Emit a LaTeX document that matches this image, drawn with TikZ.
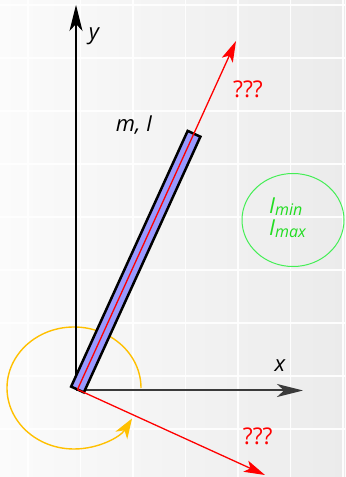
\documentclass[tikz,border=0pt]{standalone}
\usepackage{fontspec}
\setmainfont{Open Sans}
\usetikzlibrary{arrows.meta,calc,shapes.geometric}
\definecolor{bgL}{HTML}{FBFBFB}
\definecolor{bgR}{HTML}{EBEBEB}
\definecolor{axisgray}{HTML}{3A3A3A}
\definecolor{arcorange}{HTML}{FFC000}
\definecolor{rodblue}{HTML}{9999FF}
\definecolor{ellgreen}{HTML}{44EE55}
\definecolor{txtgreen}{HTML}{22DD22}
\definecolor{redc}{HTML}{FF0000}
\newcommand\lowsub[1]{\raisebox{-2bp}{\fontsize{16bp}{16bp}\selectfont #1}}
\begin{document}
\begin{tikzpicture}[x=1bp,y=1bp,
  gridline/.style={draw=white,line width=1.2bp,opacity=0.9},
  axisline/.style={line width=1.3bp,-{Stealth[length=26bp,width=13bp,inset=7bp]}},
  redarrow/.style={draw=redc,line width=1.3bp,-{Stealth[length=21bp,width=12bp,inset=5bp]}},
  orangearc/.style={draw=arcorange,line width=1.4bp,-{Stealth[length=20bp,width=14bp,inset=6bp]}},
  rodstyle/.style={draw=black,line width=2.5bp,fill=rodblue,inner sep=0pt,outer sep=0pt,minimum width=281bp,minimum height=14bp},
  lbl/.style={font=\fontsize{22bp}{26bp}\selectfont\itshape,inner sep=0pt},
  qlbl/.style={font=\fontsize{23bp}{27bp}\selectfont,text=redc,inner sep=0pt}
]
\useasboundingbox (0,0) rectangle (345,477);
\shade[left color=bgL,right color=bgR] (0,0) rectangle (345,477);
\foreach \gx in {28,80.5,133,185.5,238,290.5,343}
  \draw[gridline] (\gx,0) -- (\gx,477);
\foreach \gy in {472,419,366,313,260,207,154,101,48}
  \draw[gridline] (0,\gy) -- (345,\gy);

\coordinate (O) at (77.5,87.5);
\coordinate (ybase) at (76,87);
\coordinate (yend) at (76,472);
\coordinate (xbase) at (76,86.5);
\coordinate (xend) at (303,86.5);
\coordinate (arcC) at (74,89);
\coordinate (rtipA) at (236,436);
\coordinate (rtipB) at (265,2);

\draw[orangearc] ($(arcC)+(67,0)$) arc[start angle=0,end angle=330,x radius=67,y radius=61];
\draw[axisline,draw=axisgray,line width=2bp] (xbase) -- (xend);
\draw[axisline,draw=black] (ybase) -- (yend);

\node[rodstyle,rotate=65.5,anchor=west] (rod) at (O) {};
\draw[redarrow] (O) -- (rtipA);
\draw[redarrow] (O) -- (rtipB);

\node[lbl] (ylbl) at (94,440.5) {y};
\node[lbl] (xlbl) at (280,111) {x};
\node[lbl] (mlbl) at (134,352) {m, I};
\node[qlbl] (qtop) at (248,388) {???};
\node[qlbl] (qbot) at (257.7,40.3) {???};

\node[draw=ellgreen,line width=1bp,ellipse,minimum width=102bp,minimum height=93bp,inner sep=0pt] (iell) at (293,257) {};
\node[text=txtgreen,align=left,inner sep=0pt,font=\fontsize{22bp}{21.7bp}\selectfont\itshape] (itext) at (287.5,259) {I\lowsub{min}\\I\lowsub{max}};
\end{tikzpicture}
\end{document}
